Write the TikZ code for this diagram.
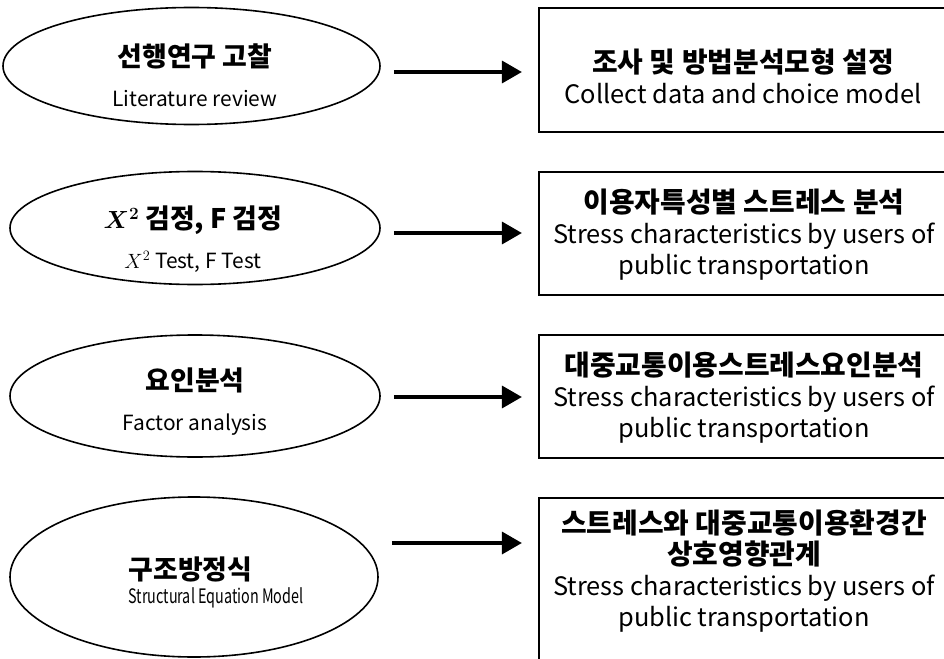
\documentclass[tikz,border=0pt]{standalone}
\usepackage{fontspec}
\setmainfont{Noto Sans CJK KR}
\usepackage{amsmath,bm}
\usepackage{tikz}
\usetikzlibrary{shapes.geometric,arrows.meta}
\tikzstyle{oval} = [draw=black, ellipse, line width=1.6bp, inner sep=0pt]
\tikzstyle{task} = [draw=black, rectangle, line width=2.2bp, inner sep=0pt, minimum width=409bp]
\tikzstyle{label} = [align=center, font={\fontsize{21}{40}\selectfont}]
\tikzstyle{words} = [align=center, font={\fontsize{25.5}{31}\selectfont}]
\tikzstyle{flow} = [-{Triangle[length=20bp,width=22bp]}, line width=3.5bp, shorten <=13bp, shorten >=16bp]
\newcommand{\kor}[1]{{\bfseries\fontsize{27}{31}\selectfont #1}}
\newcommand{\korbig}[1]{{\bfseries\fontsize{28}{31}\selectfont #1}}

\begin{document}
\begin{tikzpicture}[x=1bp,y=-1bp]
    \useasboundingbox (0,0) rectangle (944,659);
    \clip (0,0) rectangle (944,659);
    % left: methods
    \node[oval,minimum width=377bp,minimum height=117bp](m1) at (191.5,66){};
    \node[oval,minimum width=370bp,minimum height=113bp](m2) at (195,228){};
    \node[oval,minimum width=370bp,minimum height=122bp](m3) at (195,396){};
    \node[oval,minimum width=368bp,minimum height=160bp](m4) at (194,577){};
    \node[label](m1t) at (195,75){\kor{선행연구 고찰}\\Literature review};
    \node[label](m2t) at (193,239){\kor{\boldmath$X^2$ 검정, F 검정}\\$X^2$ Test, F Test};
    \node[label](m3t) at (195,402){\kor{요인분석}\\Factor analysis};
    \node[label,align=left,font={\fontsize{20}{24}\selectfont}](m4t) at (216,582){\kor{구조방정식}\\\scalebox{0.72}[1]{Structural Equation Model}};
    % right: steps
    \node[task,minimum height=124bp](s1) at (743.5,70){};
    \node[task,minimum height=123bp](s2) at (743.5,233.5){};
    \node[task,minimum height=123bp](s3) at (743.5,396.5){};
    \node[task,minimum height=200bp](s4) at (743.5,598){};
    \node[words](s1t) at (743,76){\korbig{조사 및 방법분석모형 설정}\\Collect data and choice model};
    \node[words](s2t) at (744,235){\korbig{이용자특성별 스트레스 분석}\\Stress characteristics by users of\\public transportation};
    \node[words](s3t) at (744,398){\korbig{대중교통이용스트레스요인분석}\\Stress characteristics by users of\\public transportation};
    \node[words](s4t) at (744,571){\korbig{스트레스와 대중교통이용환경간}\\\korbig{상호영향관계}\\Stress characteristics by users of\\public transportation};
    % arrows
    \draw[flow](m1.east |- 0,72)--(s1.west |- 0,72);
    \draw[flow](m2.east |- 0,233)--(s2.west |- 0,233);
    \draw[flow](m3.east |- 0,397)--(s3.west |- 0,397);
    \draw[flow](m4.east |- 0,543)--(s4.west |- 0,543);
\end{tikzpicture}
\end{document}
